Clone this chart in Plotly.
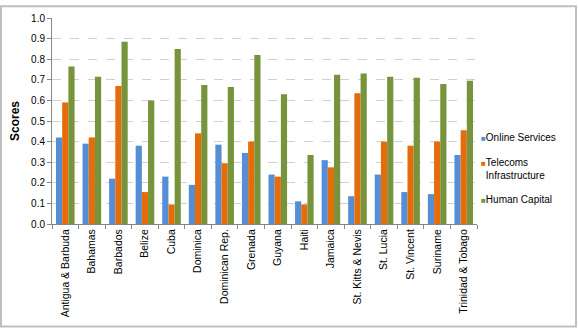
import plotly.graph_objects as go

countries = ["Antigua & Barbuda", "Bahamas", "Barbados", "Belize", "Cuba", "Dominica",
             "Dominican Rep.", "Grenada", "Guyana", "Haiti", "Jamaica", "St. Kitts & Nevis",
             "St. Lucia", "St. Vincent", "Suriname", "Trinidad & Tobago"]
online_services = [0.42, 0.39, 0.22, 0.38, 0.23, 0.19, 0.385, 0.345, 0.24, 0.11, 0.31, 0.135, 0.24, 0.155, 0.145, 0.335]
telecoms = [0.59, 0.42, 0.67, 0.155, 0.095, 0.44, 0.295, 0.40, 0.23, 0.095, 0.275, 0.635, 0.40, 0.38, 0.40, 0.455]
human_capital = [0.765, 0.715, 0.885, 0.60, 0.85, 0.675, 0.665, 0.82, 0.63, 0.335, 0.725, 0.73, 0.715, 0.71, 0.68, 0.695]

series = [("Online Services", online_services, "#558ED5"),
          ("Telecoms<br>Infrastructure", telecoms, "#E46C0A"),
          ("Human Capital", human_capital, "#77933C")]

fig = go.Figure()
for i, (name, vals, col) in enumerate(series):
    fig.add_trace(go.Bar(x=countries, y=vals, name=name, showlegend=False,
                         marker=dict(color=col, line=dict(width=0))))

sq = "<span style='font-size:8px;color:{c}'>■</span>"
blank = "<span style='font-size:8px;color:rgba(0,0,0,0)'>■</span>"
for i, (name, vals, col) in enumerate(series):
    lines = name.split("<br>")
    label = sq.format(c=col) + lines[0]
    for extra in lines[1:]:
        label += "<br>" + blank + extra
    fig.add_trace(go.Scatter(x=[None], y=[None], mode="none", name=label, legendgroup=str(i),
                             showlegend=True))

W, H = 578, 331
L, R, T, B = 52, 101, 13, 107
pw, ph = W - L - R, H - T - B

fig.update_layout(
    width=W, height=H,
    margin=dict(l=L, r=R, t=T, b=B),
    paper_bgcolor="white", plot_bgcolor="white",
    font=dict(family="Liberation Sans, Arial, sans-serif", size=10, color="#000"),
    barmode="group", bargap=0.3, bargroupgap=0,
    legend=dict(x=(441 - L) / pw, y=(T + ph - 167) / ph, xanchor="left", yanchor="middle",
                font=dict(size=10), itemwidth=30, tracegroupgap=7, traceorder="grouped",
                bgcolor="rgba(0,0,0,0)"),
    showlegend=True,
    xaxis=dict(type="category", tickangle=-90, showline=True, linecolor="#868686",
               ticks="outside", tickson="boundaries", ticklen=4, tickcolor="#868686",
               tickfont=dict(size=10.5)),
    yaxis=dict(range=[0, 1.0], dtick=0.1, tickformat=".1f", showline=True, linecolor="#868686",
               ticks="outside", ticklen=4, tickcolor="#868686",
               showgrid=True, gridcolor="#D0D0D0", griddash="dash", gridwidth=1,
               title=dict(text="<b>Scores</b>", font=dict(size=12), standoff=8),
               tickfont=dict(size=10), zeroline=False),
    shapes=[dict(type="rect", xref="paper", yref="paper",
                 x0=(1 - L) / pw, x1=(576 - L) / pw,
                 y0=(T + ph - 329) / ph, y1=(T + ph - 1) / ph,
                 line=dict(color="#BFBFBF", width=2), fillcolor="rgba(0,0,0,0)")]
)

fig.write_html("out.html")
